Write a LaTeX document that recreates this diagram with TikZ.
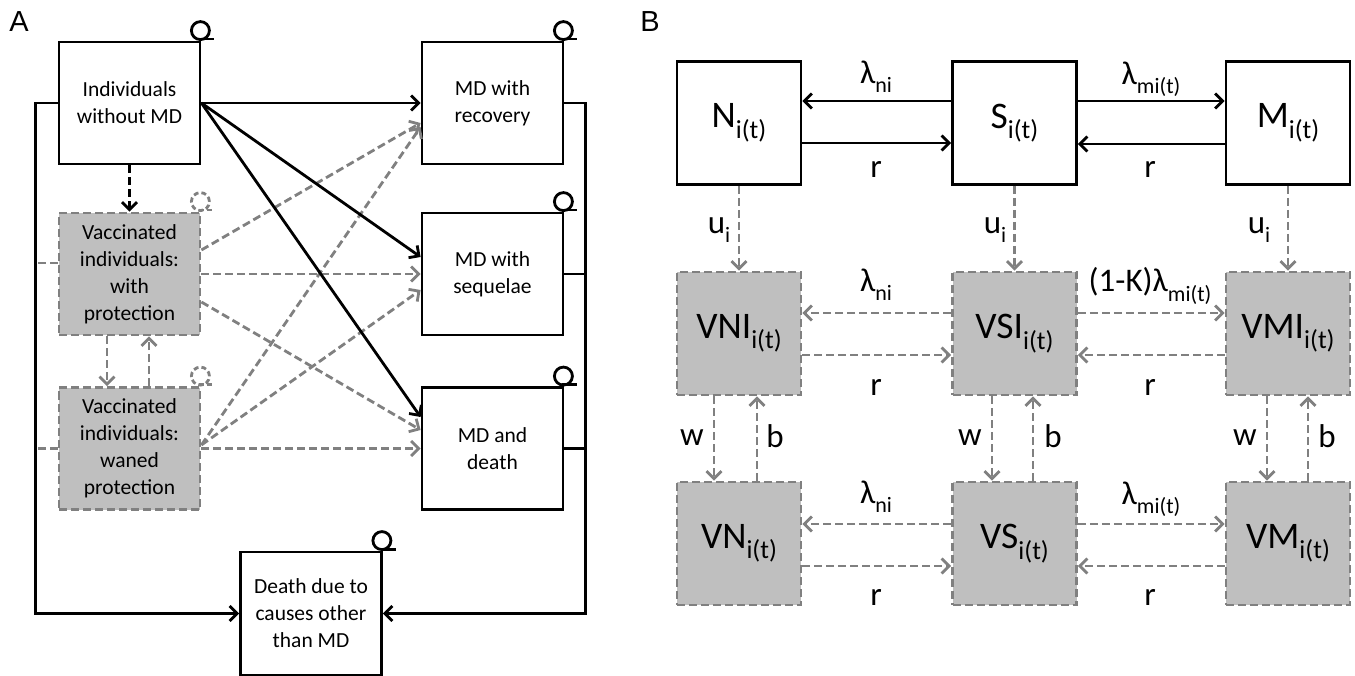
\documentclass[tikz,border=0pt]{standalone}
\usepackage{fontspec}
\setmainfont{Carlito}
\newfontfamily\panelfont{Liberation Sans}
\usetikzlibrary{arrows.meta}

\definecolor{dgray}{RGB}{128,128,128}
\definecolor{lgray}{RGB}{191,191,191}

% lowered index for the compartment names and rates
\newcommand{\idx}[2][22]{\raisebox{-0.28em}{\fontsize{#1}{#1}\selectfont #2}}
% small loop on the top right corner of a box
\newcommand{\selfloop}[2]{%
  \draw[#2] ([shift={(-1,-10)}]#1.north east) circle[radius=9pt];
  \draw[#2] ([shift={(-2,-1.5)}]#1.north east) -- ++(15,0);}

\tikzset{
  comp/.style={draw, line width=2.8pt, minimum width=141pt, minimum height=122pt,
    align=center, inner sep=0pt, font=\fontsize{21.5}{27}\selectfont},
  vcomp/.style={comp, draw=dgray, fill=lgray, dash pattern=on 8pt off 4pt},
  state/.style={comp, minimum width=124pt, minimum height=123pt, font=\fontsize{37.5}{40}\selectfont},
  vstate/.style={state, draw=dgray, fill=lgray, dash pattern=on 8pt off 4pt},
  flow/.style={line width=2.8pt, -{Straight Barb[length=7.5pt,width=15pt]}},
  vflow/.style={flow, dgray, dash pattern=on 8pt off 4pt},
  link/.style={line width=2.8pt},
  vlink/.style={link, dgray, dash pattern=on 8pt off 4pt},
  rate/.style={inner sep=0pt, font=\fontsize{33}{36}\selectfont},
  lp/.style={line width=2.8pt},
  vlp/.style={line width=2.8pt, dgray, dash pattern=on 5pt off 3pt},
  panel/.style={font=\panelfont\fontsize{29}{29}\selectfont},
}

\begin{document}
\begin{tikzpicture}[x=1pt,y=-1pt]
\useasboundingbox (0,0) rectangle (1355,676);

% panel A
\node[panel] (pa) at (19,22) {A};

\node[comp] (ind) at (129.5,103) {Individuals\\without MD};
\node[vcomp] (vprot) at (129.5,274) {Vaccinated\\individuals:\\with\\protection};
\node[vcomp] (vwane) at (129.5,448.5) {Vaccinated\\individuals:\\waned\\protection};
\node[comp] (mdrec) at (492.5,103) {MD with\\recovery};
\node[comp] (mdseq) at (492.5,274) {MD with\\sequelae};
\node[comp] (mddth) at (492.5,448.5) {MD and\\death};
\node[comp, minimum height=123pt] (othd) at (311,613.5) {Death due to\\causes other\\than MD};

\selfloop{ind}{lp}
\selfloop{mdrec}{lp}
\selfloop{mdseq}{lp}
\selfloop{mddth}{lp}
\selfloop{othd}{lp}
\selfloop{vprot}{vlp}
\selfloop{vwane}{vlp}

\draw[vflow] (vprot.east |- 0,250) -- (mdrec.west |- 0,123);
\draw[vflow] (vprot.east) -- (mdseq.west);
\draw[vflow] (vprot.east |- 0,302) -- (mddth.west |- 0,430);
\draw[vflow] (vwane.east |- 0,445) -- (mdrec.west |- 0,127);
\draw[vflow] (vwane.east |- 0,445) -- (mdseq.west |- 0,290);
\draw[vflow] (vwane.east) -- (mddth.west);
\draw[vflow] (vprot.south -| 107,0) -- (vwane.north -| 107,0);
\draw[vflow] (vwane.north -| 149,0) -- (vprot.south -| 149,0);

\draw[flow] (ind.east) -- (mdrec.west);
\draw[flow] (ind.east) -- (mdseq.west |- 0,257);
\draw[flow] (ind.east) -- (mddth.west |- 0,417);
\draw[flow, dash pattern=on 8pt off 4pt] (ind.south) -- (vprot.north);

\draw[flow] (ind.west) -- ++(-22,0) |- (othd.west);
\draw[vlink] (vprot.west |- 0,263) -- ++(-22,0);
\draw[vlink] (vwane.west) -- ++(-22,0);
\draw[flow] (mdrec.east) -- ++(21,0) |- (othd.east);
\draw[link] (mdseq.east) -- ++(21,0);
\draw[link] (mddth.east) -- ++(21,0);

% panel B
\node[panel] (pb) at (650,22) {B};

\node[state] (N) at (739,123) {N\idx[26]{i(t)}};
\node[state] (S) at (1014.5,123) {S\idx[26]{i(t)}};
\node[state] (M) at (1288,123) {M\idx[26]{i(t)}};
\node[vstate] (VNI) at (739,333.5) {VNI\idx[26]{i(t)}};
\node[vstate] (VSI) at (1014.5,333.5) {VSI\idx[26]{i(t)}};
\node[vstate] (VMI) at (1288,333.5) {VMI\idx[26]{i(t)}};
\node[vstate] (VN) at (739,543.5) {VN\idx[26]{i(t)}};
\node[vstate] (VS) at (1014.5,543.5) {VS\idx[26]{i(t)}};
\node[vstate] (VM) at (1288,543.5) {VM\idx[26]{i(t)}};

\draw[flow] (S.west |- 0,101) -- (N.east |- 0,101);
\draw[flow] (N.east |- 0,143) -- (S.west |- 0,143);
\draw[flow] (S.east |- 0,101) -- (M.west |- 0,101);
\draw[flow] (M.west |- 0,144) -- (S.east |- 0,144);
\node[rate] (l1) at (876,77) {λ\idx{ni}};
\node[rate] (r1) at (876,169) {r};
\node[rate] (l2) at (1151,79) {λ\idx{mi(t)}};
\node[rate] (r2) at (1150,169) {r};

\draw[vflow] (N.south) -- (VNI.north);
\draw[vflow] (S.south) -- (VSI.north);
\draw[vflow] (M.south) -- (VMI.north);
\node[rate] (u1) at (719,230) {u\idx{i}};
\node[rate] (u2) at (995,230) {u\idx{i}};
\node[rate] (u3) at (1259,230) {u\idx{i}};

\draw[vflow] (VSI.west |- 0,313) -- (VNI.east |- 0,313);
\draw[vflow] (VNI.east |- 0,355) -- (VSI.west |- 0,355);
\draw[vflow] (VSI.east |- 0,313) -- (VMI.west |- 0,313);
\draw[vflow] (VMI.west |- 0,355) -- (VSI.east |- 0,355);
\node[rate] (l3) at (876,285) {λ\idx{ni}};
\node[rate] (r3) at (876,387) {r};
\node[rate] (l4) at (1150,286) {(1-K)λ\idx{mi(t)}};
\node[rate] (r4) at (1150,387) {r};

\draw[vflow] (VNI.south -| 714,0) -- (VN.north -| 714,0);
\draw[vflow] (VN.north -| 757,0) -- (VNI.south -| 757,0);
\draw[vflow] (VSI.south -| 992,0) -- (VS.north -| 992,0);
\draw[vflow] (VS.north -| 1033,0) -- (VSI.south -| 1033,0);
\draw[vflow] (VMI.south -| 1267,0) -- (VM.north -| 1267,0);
\draw[vflow] (VM.north -| 1308,0) -- (VMI.south -| 1308,0);
\node[rate] (w1) at (692,438) {w};
\node[rate] (b1) at (775,436) {b};
\node[rate] (w2) at (970,438) {w};
\node[rate] (b2) at (1053,436) {b};
\node[rate] (w3) at (1245,438) {w};
\node[rate] (b3) at (1327,436) {b};

\draw[vflow] (VS.west |- 0,524) -- (VN.east |- 0,524);
\draw[vflow] (VN.east |- 0,566) -- (VS.west |- 0,566);
\draw[vflow] (VS.east |- 0,524) -- (VM.west |- 0,524);
\draw[vflow] (VM.west |- 0,566) -- (VS.east |- 0,566);
\node[rate] (l5) at (876,497) {λ\idx{ni}};
\node[rate] (r5) at (876,597) {r};
\node[rate] (l6) at (1151,499) {λ\idx{mi(t)}};
\node[rate] (r6) at (1150,597) {r};
\end{tikzpicture}
\end{document}
